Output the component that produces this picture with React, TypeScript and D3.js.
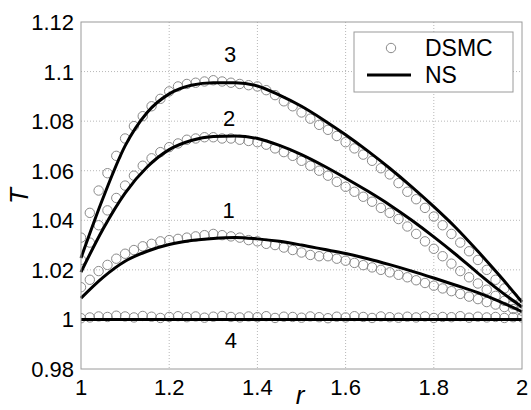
import React from "react";
import * as d3 from "d3";

// ---------- data ----------
const nsR = [1.0, 1.05, 1.1, 1.15, 1.2, 1.25, 1.3, 1.35, 1.4, 1.45, 1.5, 1.55, 1.6, 1.65, 1.7, 1.75, 1.8, 1.85, 1.9, 1.95, 2.0];
const ns3 = [1.0248, 1.049, 1.07, 1.0835, 1.091, 1.0945, 1.0955, 1.0955, 1.0942, 1.0905, 1.086, 1.0805, 1.0745, 1.068, 1.061, 1.0535, 1.0455, 1.037, 1.0275, 1.0175, 1.007];
const ns2 = [1.0191, 1.0365, 1.051, 1.0615, 1.0685, 1.0722, 1.0738, 1.074, 1.073, 1.0702, 1.0665, 1.062, 1.057, 1.0518, 1.0462, 1.04, 1.0333, 1.0262, 1.0187, 1.0115, 1.005];
const ns1 = [1.0086, 1.017, 1.0235, 1.0275, 1.0302, 1.0318, 1.0327, 1.0331, 1.0325, 1.0315, 1.03, 1.0283, 1.0266, 1.0245, 1.0221, 1.0195, 1.0167, 1.0138, 1.0108, 1.0072, 1.0031];
const ns4 = [1.0, 1.0, 1.0, 1.0, 1.0, 1.0, 1.0, 1.0, 1.0, 1.0, 1.0, 1.0, 1.0, 1.0, 1.0, 1.0, 1.0, 1.0, 1.0, 1.0, 1.0];

const dsmcR = [
  1.0, 1.02, 1.04, 1.06, 1.08, 1.1, 1.12, 1.14, 1.16, 1.18, 1.2, 1.22, 1.24, 1.26, 1.28, 1.3, 1.32, 1.34, 1.36, 1.38,
  1.4, 1.42, 1.44, 1.46, 1.48, 1.5, 1.52, 1.54, 1.56, 1.58, 1.6, 1.62, 1.64, 1.66, 1.68, 1.7, 1.72, 1.74, 1.76, 1.78,
  1.8, 1.82, 1.84, 1.86, 1.88, 1.9, 1.92, 1.94, 1.96, 1.98, 2.0,
];
const dsmc3 = [
  1.033, 1.043, 1.052, 1.059, 1.066, 1.073, 1.078, 1.082, 1.086, 1.089, 1.092, 1.094, 1.095, 1.0955, 1.096, 1.0965, 1.096, 1.0955, 1.095, 1.0945,
  1.094, 1.0925, 1.0905, 1.088, 1.086, 1.0835, 1.081, 1.0785, 1.0765, 1.074, 1.0715, 1.069, 1.0665, 1.064, 1.061, 1.0585, 1.055, 1.0515, 1.0485, 1.045,
  1.0415, 1.038, 1.0345, 1.031, 1.0275, 1.024, 1.02, 1.016, 1.0125, 1.009, 1.0065,
];
const dsmc2 = [
  1.024, 1.031, 1.038, 1.044, 1.049, 1.054, 1.058, 1.062, 1.065, 1.0675, 1.0695, 1.071, 1.0725, 1.073, 1.0735, 1.0735, 1.073, 1.073, 1.0725, 1.072,
  1.0715, 1.0705, 1.069, 1.0675, 1.066, 1.064, 1.062, 1.06, 1.058, 1.0555, 1.0535, 1.0515, 1.0495, 1.0475, 1.045, 1.043, 1.0405, 1.0375, 1.0345, 1.0315,
  1.0285, 1.0255, 1.0225, 1.0195, 1.017, 1.0145, 1.012, 1.0095, 1.0075, 1.006, 1.005,
];
const dsmc1 = [
  1.013, 1.016, 1.0195, 1.022, 1.0245, 1.0265, 1.028, 1.0295, 1.0305, 1.0315, 1.032, 1.0325, 1.033, 1.0335, 1.034, 1.0345, 1.034, 1.0335, 1.033, 1.032,
  1.0315, 1.0305, 1.03, 1.029, 1.028, 1.027, 1.026, 1.0255, 1.0255, 1.0245, 1.0237, 1.0228, 1.0219, 1.021, 1.02, 1.019, 1.018, 1.017, 1.0158, 1.0147,
  1.0136, 1.0125, 1.0114, 1.0103, 1.0092, 1.0082, 1.007, 1.006, 1.005, 1.0042, 1.0035,
];
const dsmc4 = [
  1.0005, 1.0008, 1.0012, 1.001, 1.0015, 1.0012, 1.0008, 1.0014, 1.0011, 1.0006, 1.001, 1.0013, 1.0009, 1.0012, 1.0007, 1.0011, 1.0014, 1.001, 1.0008, 1.0012,
  1.0009, 1.0013, 1.0006, 1.0011, 1.001, 1.0007, 1.0012, 1.0009, 1.0005, 1.0011, 1.0008, 1.0013, 1.001, 1.0006, 1.0012, 1.0009, 1.0007, 1.0011, 1.0008, 1.0012,
  1.0006, 1.001, 1.0009, 1.0013, 1.0007, 1.0011, 1.0008, 1.001, 1.0006, 1.0009, 1.0008,
];

const xTicks = [1, 1.2, 1.4, 1.6, 1.8, 2];
const xTickLabels = ["1", "1.2", "1.4", "1.6", "1.8", "2"];
const yTicks = [0.98, 1.0, 1.02, 1.04, 1.06, 1.08, 1.1, 1.12];
const yTickLabels = ["0.98", "1", "1.02", "1.04", "1.06", "1.08", "1.1", "1.12"];

const curveLabels = ["3", "2", "1", "4"];
const curveLabelR = [1.338, 1.336, 1.335, 1.34];
const curveLabelT = [1.1038, 1.078, 1.0409, 0.9885];

const legendLabels = ["DSMC", "NS"];

// ---------- layout ----------
const W = 531;
const H = 410;
const M = { left: 81, right: 522, top: 22, bottom: 369 };
const FONT = "Arial, 'Liberation Sans', sans-serif";

export default function App() {
  const x = d3.scaleLinear().domain([1, 2]).range([M.left, M.right]);
  const y = d3.scaleLinear().domain([0.98, 1.12]).range([M.bottom, M.top]);

  const line = d3
    .line<number>()
    .x((_, i) => x(nsR[i]))
    .y((d) => y(d))
    .curve(d3.curveMonotoneX);

  const nsSeries = [ns3, ns2, ns1, ns4];
  const dsmcSeries = [dsmc3, dsmc2, dsmc1, dsmc4];

  const gridX = xTicks.slice(1, -1);
  const gridY = yTicks.slice(1, -1);

  return (
    <svg width={W} height={H} style={{ position: "absolute", left: 0, top: 0, background: "#fff" }}>
      <rect x={0} y={0} width={W} height={H} fill="#fff" />
      <defs>
        <clipPath id="plotclip">
          <rect x={M.left} y={M.top} width={M.right - M.left} height={M.bottom - M.top} />
        </clipPath>
      </defs>
      {/* grid */}
      {gridX.map((t) => (
        <line key={"gx" + t} x1={x(t)} x2={x(t)} y1={M.top} y2={M.bottom} stroke="#b8b8b8" strokeWidth={1} strokeDasharray="1,2" />
      ))}
      {gridY.map((t) => (
        <line key={"gy" + t} x1={M.left} x2={M.right} y1={y(t)} y2={y(t)} stroke="#b8b8b8" strokeWidth={1} strokeDasharray="1,2" />
      ))}
      {/* DSMC circles */}
      <g clipPath="url(#plotclip)">
        {dsmcSeries.map((s, si) =>
          s.map((v, i) => (
            <circle key={"c" + si + "-" + i} cx={x(dsmcR[i])} cy={y(v)} r={4.7} fill="none" stroke="#8a8a8a" strokeWidth={1} />
          ))
        )}
      </g>
      {/* NS lines */}
      {nsSeries.map((s, si) => (
        <path key={"l" + si} d={line(s) || ""} fill="none" stroke="#000" strokeWidth={3} />
      ))}
      {/* frame */}
      <rect x={M.left} y={M.top} width={M.right - M.left} height={M.bottom - M.top} fill="none" stroke="#9a9a9a" strokeWidth={1} />
      {/* tick labels */}
      {xTicks.map((t, i) => (
        <text key={"xt" + t} x={x(t)} y={395} textAnchor="middle" fontFamily={FONT} fontSize={22} fill="#000">
          {xTickLabels[i]}
        </text>
      ))}
      {yTicks.map((t, i) => (
        <text key={"yt" + t} x={74} y={y(t) + 8} textAnchor="end" fontFamily={FONT} fontSize={22} fill="#000">
          {yTickLabels[i]}
        </text>
      ))}
      {/* axis titles */}
      <text x={300} y={404} textAnchor="middle" fontFamily={FONT} fontSize={26} fontStyle="italic" fill="#000">
        r
      </text>
      <text transform="translate(28,196) rotate(-90)" textAnchor="middle" fontFamily={FONT} fontSize={26} fontStyle="italic" fill="#000">
        T
      </text>
      {/* curve labels */}
      {curveLabels.map((c, i) => (
        <text key={"cl" + c} x={x(curveLabelR[i])} y={y(curveLabelT[i])} textAnchor="middle" fontFamily={FONT} fontSize={22} fill="#000">
          {c}
        </text>
      ))}
      {/* legend */}
      <rect x={354} y={32} width={159} height={60} fill="#fff" stroke="#9a9a9a" strokeWidth={1} />
      <circle cx={391} cy={48} r={4.7} fill="none" stroke="#8a8a8a" strokeWidth={1} />
      <line x1={367} x2={411} y1={75} y2={75} stroke="#000" strokeWidth={3} />
      <text x={425} y={56} fontFamily={FONT} fontSize={23} fill="#000">
        {legendLabels[0]}
      </text>
      <text x={425} y={83} fontFamily={FONT} fontSize={23} fill="#000">
        {legendLabels[1]}
      </text>
    </svg>
  );
}
